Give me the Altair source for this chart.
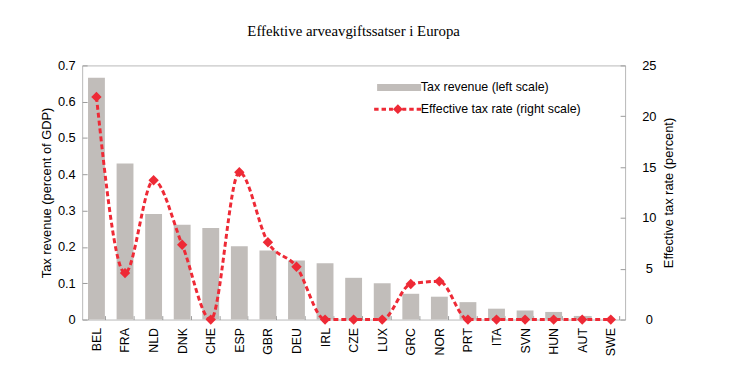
import altair as alt
import pandas as pd

countries = ["BEL", "FRA", "NLD", "DNK", "CHE", "ESP", "GBR", "DEU", "IRL", "CZE",
             "LUX", "GRC", "NOR", "PRT", "ITA", "SVN", "HUN", "AUT", "SWE"]
revenue = [0.666, 0.43, 0.291, 0.261, 0.252, 0.202, 0.19, 0.163, 0.155, 0.115,
           0.10, 0.071, 0.063, 0.048, 0.030, 0.025, 0.021, 0.010, 0.0]
rate = [21.9, 4.57, 13.7, 7.36, 0.0, 14.5, 7.6, 5.19, 0.0, 0.0,
        0.0, 3.5, 3.76, 0.0, 0.0, 0.0, 0.0, 0.0, 0.0]

series_names = ["Tax revenue (left scale)", "Effective tax rate (right scale)"]

df = pd.DataFrame({"country": countries, "revenue": revenue, "rate": rate})
legend_df = pd.DataFrame({"series": series_names})

GRAY = "#c1bdba"
RED = "#ee2a36"

# legend symbol paths (unit = half of sqrt(symbolSize))
bar_path = "M-7,-0.7H1.9V0.7H-7Z"
line_path = ("M-7.6,-0.3H-6.7V0.3H-7.6Z M-6.1,-0.3H-5.2V0.3H-6.1Z "
             "M-4.6,-0.3H-3.8V0.3H-4.6Z "
             "M-2.8,-1L-1.8,0L-2.8,1L-3.8,0Z "
             "M-1.9,-0.3H-1.1V0.3H-1.9Z M-0.5,-0.3H0.4V0.3H-0.5Z M1,-0.3H1.9V0.3H1Z")

legend = alt.Legend(
    title=None, orient="none", legendX=327, legendY=16,
    symbolSize=100, symbolStrokeWidth=0, labelFontSize=12.5,
    labelFont="Liberation Sans", labelColor="black", labelOffset=3,
    rowPadding=9, padding=0, symbolOpacity=1, labelLimit=400,
)

x_enc = alt.X(
    "country:N", sort=countries,
    scale=alt.Scale(paddingInner=0.41, paddingOuter=0.205),
    axis=alt.Axis(title=None, labelAngle=270, labelAlign="right", labelBaseline="middle",
                  domain=False, ticks=True, tickBand="extent", tickSize=4, offset=-4,
                  labelPadding=8, tickColor="#9a9a9a", labelFontSize=12.5),
)

bars = alt.Chart(df).mark_bar(color=GRAY).encode(
    x=x_enc,
    y=alt.Y("revenue:Q", scale=alt.Scale(domain=[0, 0.7], nice=False),
            axis=alt.Axis(title="Tax revenue (percent of GDP)", values=[0, 0.1, 0.2, 0.3, 0.4, 0.5, 0.6, 0.7],
                          format=".1~f", orient="left", domain=False, tickSize=5, offset=-5,
                          labelPadding=7, tickColor="#9a9a9a", titlePadding=4,
                          titleFontSize=13, labelFontSize=13)),
)

line = alt.Chart(df).mark_line(
    color=RED, strokeWidth=3, strokeDash=[5, 3], interpolate="monotone"
).encode(
    x=alt.X("country:N", sort=countries),
    y=alt.Y("rate:Q", scale=alt.Scale(domain=[0, 25], nice=False),
            axis=alt.Axis(title="Effective tax rate (percent)", values=[0, 5, 10, 15, 20, 25],
                          orient="right", domain=False, tickSize=5, offset=-5,
                          labelPadding=24, labelAlign="center", tickColor="#9a9a9a", titlePadding=20,
                          titleAngle=270, titleFontSize=13, labelFontSize=13)),
)

points = alt.Chart(df).mark_point(
    filled=True, opacity=1, size=110, shape="diamond", color=RED
).encode(
    x=alt.X("country:N", sort=countries),
    y=alt.Y("rate:Q", scale=alt.Scale(domain=[0, 25], nice=False)),
)

legend_layer = alt.Chart(legend_df).transform_filter("false").mark_point(
    filled=True, opacity=1
).encode(
    color=alt.Color("series:N", scale=alt.Scale(domain=series_names, range=[GRAY, RED]), legend=legend),
    shape=alt.Shape("series:N", scale=alt.Scale(domain=series_names, range=[bar_path, line_path]), legend=legend),
)

right = alt.layer(line, points)

chart = alt.layer(bars, right, legend_layer).resolve_scale(y="independent").properties(
    width=549, height=257,
    autosize=alt.AutoSizeParams(type="none"),
    padding={"left": 75, "top": 56, "right": 98, "bottom": 54},
    title=alt.Title("Effektive arveavgiftssatser i Europa", font="Liberation Serif",
                    fontSize=15, fontWeight="normal", color="black", anchor="middle",
                    offset=21),
).configure_view(
    stroke="#b8b8b8", strokeWidth=1
).configure_axis(
    labelFont="Liberation Sans", titleFont="Liberation Sans", labelColor="black",
    titleColor="black", titleFontWeight="normal", grid=False,
)

chart.save("out.html", embed_options={"renderer": "svg", "actions": False})
